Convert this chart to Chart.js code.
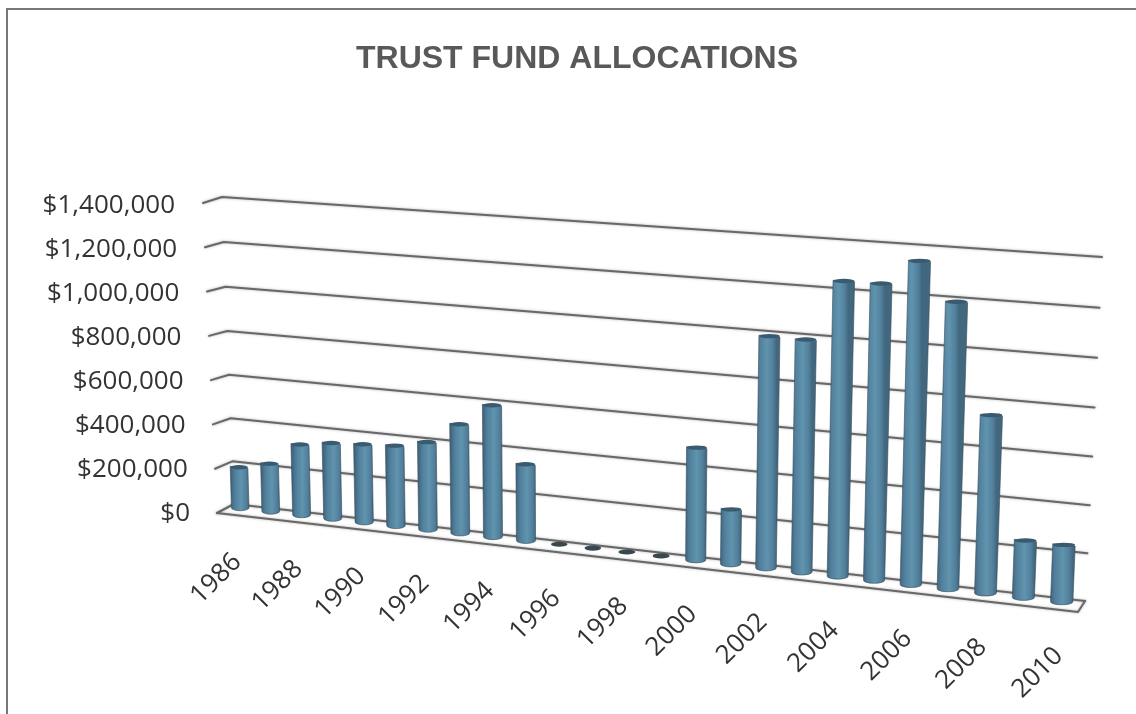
<!DOCTYPE html>
<html>
<head>
<meta charset="utf-8">
<style>
html,body{margin:0;padding:0;background:#fff;overflow:hidden}
#wrap{position:relative;width:1136px;height:714px}
#frame{position:absolute;left:6px;top:8px;right:0;bottom:0;border-left:2px solid #777;border-top:2px solid #777;pointer-events:none}
canvas{position:absolute;left:0;top:0}
</style>
<script src="https://cdn.jsdelivr.net/npm/chart.js@4"></script>
</head>
<body>
<div id="wrap"><canvas id="c" width="1136" height="714"></canvas><div id="frame"></div></div>
<script>
const titleText = 'TRUST FUND ALLOCATIONS';
const years = ['1986','1987','1988','1989','1990','1991','1992','1993','1994','1995','1996','1997','1998','1999','2000','2001','2002','2003','2004','2005','2006','2007','2008','2009','2010'];
const allocations = [190000,222000,326000,348000,357000,366000,397000,492000,591000,343000,0,0,0,0,492000,239000,997000,995000,1251000,1252000,1356000,1200000,747000,240000,239000];

// Perspective of the 3-D view: where the plot rectangle lands on screen
const wallQuad = {bl:[234,504],br:[1085,601],tl:[222,197],tr:[1102,257]};
const barQuad  = {bl:[225,506],br:[1081,604],tl:[216,202],tr:[1095,262]};
const sideFront = {top:[203,203],bottom:[217,513]};
const floorFrontRight = [1078,612];
const plot = {left:200,right:1085,top:204,bottom:512};

function homography(q){
  const [x0,y0]=q.tl,[x1,y1]=q.tr,[x2,y2]=q.br,[x3,y3]=q.bl;
  const dx1=x1-x2,dx2=x3-x2,sx=x0-x1+x2-x3,dy1=y1-y2,dy2=y3-y2,sy=y0-y1+y2-y3;
  const d=dx1*dy2-dx2*dy1;
  const g=(sx*dy2-dx2*sy)/d,h=(dx1*sy-sx*dy1)/d;
  const a=x1-x0+g*x1,b=x3-x0+h*x3,c=x0,e=y1-y0+g*y1,f=y3-y0+h*y3,i=y0;
  return (px,py)=>{
    const u=(px-plot.left)/(plot.right-plot.left),v=(py-plot.top)/(plot.bottom-plot.top);
    const w=g*u+h*v+1;
    return [(a*u+b*v+c)/w,(e*u+f*v+i)/w];
  };
}
const onWall=homography(wallQuad), onBarPlane=homography(barQuad);

class ProjectedYears extends Chart.CategoryScale{
  static id='projectedYears';
  static defaults=Chart.CategoryScale.defaults;
  _computeLabelArea(){return undefined;}
  _computeLabelItems(area){
    const items=super._computeLabelItems(area);
    items.forEach((it,k)=>{
      const p=onBarPlane(this.getPixelForTick(k),plot.bottom);
      it.options.translation=[p[0]-3,p[1]+50];
      it.options.textAlign='right';
      it.textOffset=0;
      it.options.textBaseline='middle';
    });
    return items;
  }
}
class ProjectedValues extends Chart.LinearScale{
  static id='projectedValues';
  static defaults=Chart.LinearScale.defaults;
  _computeLabelArea(){return undefined;}
  _computeLabelItems(area){
    const items=super._computeLabelItems(area);
    items.forEach((it,k)=>{
      const frac=(plot.bottom-this.getPixelForTick(k))/(plot.bottom-plot.top);
      it.options.translation=[190-15*frac,it.options.translation[1]+2];
    });
    return items;
  }
}
Chart.register(ProjectedYears,ProjectedValues);

const perspective={
  id:'perspective',
  beforeDatasetsDraw(chart){
    const ctx=chart.ctx,ys=chart.scales.y;
    ctx.save();
    ctx.lineCap='round';ctx.lineJoin='round';
    ctx.strokeStyle='#686868';ctx.lineWidth=2;
    ctx.shadowColor='rgba(90,90,90,.5)';ctx.shadowBlur=2.5;
    ys.ticks.forEach((t,k)=>{
      const py=ys.getPixelForTick(k);
      const frac=(plot.bottom-py)/(plot.bottom-plot.top);
      const a=[sideFront.bottom[0]+(sideFront.top[0]-sideFront.bottom[0])*frac,
               sideFront.bottom[1]+(sideFront.top[1]-sideFront.bottom[1])*frac];
      const b=onWall(plot.left,py),c=onWall(plot.right,py);
      ctx.beginPath();ctx.moveTo(a[0],a[1]);ctx.lineTo(b[0],b[1]);ctx.lineTo(c[0],c[1]);ctx.stroke();
    });
    // floor outline
    const py0=ys.getPixelForValue(0);
    const br=onWall(plot.right,py0);
    ctx.beginPath();
    ctx.moveTo(sideFront.bottom[0],sideFront.bottom[1]);
    ctx.lineTo(floorFrontRight[0],floorFrontRight[1]);
    ctx.lineTo(br[0],br[1]);
    ctx.stroke();
    ctx.restore();
  },
  beforeDatasetDraw(chart,args){
    const ctx=chart.ctx;
    const meta=chart.getDatasetMeta(args.index);
    meta.data.forEach(el=>{
      const hw=el.width/2;
      const bL=onBarPlane(el.x-hw,el.base),bR=onBarPlane(el.x+hw,el.base);
      const tL=onBarPlane(el.x-hw,el.y),tR=onBarPlane(el.x+hw,el.y);
      const bC=[(bL[0]+bR[0])/2,(bL[1]+bR[1])/2],tC=[(tL[0]+tR[0])/2,(tL[1]+tR[1])/2];
      const rB=(bR[0]-bL[0])/2,rT=(tR[0]-tL[0])/2;
      ctx.save();
      if(el.base-el.y>1){
        const g=ctx.createLinearGradient(bL[0],0,bR[0],0);
        g.addColorStop(0,'#40667f');g.addColorStop(.2,'#517f9b');g.addColorStop(.55,'#6094ae');
        g.addColorStop(.85,'#517f9b');g.addColorStop(1,'#42687f');
        ctx.fillStyle=g;
        ctx.beginPath();
        ctx.moveTo(tL[0],tL[1]);
        ctx.lineTo(bL[0],bL[1]);
        ctx.ellipse(bC[0],bC[1],rB,3,0,Math.PI,0,true);
        ctx.lineTo(tR[0],tR[1]);
        ctx.closePath();ctx.fill();
        ctx.strokeStyle='rgba(55,75,88,.6)';ctx.lineWidth=1;ctx.stroke();
        ctx.fillStyle='#3a5a70';
        ctx.beginPath();ctx.ellipse(tC[0],tC[1],rT,2.2,0,0,Math.PI*2);ctx.fill();
      }else{
        ctx.fillStyle='#39474f';
        ctx.beginPath();ctx.ellipse(tC[0],tC[1],rT*.85,2.6,0,0,Math.PI*2);ctx.fill();
      }
      ctx.restore();
    });
    return false;
  }
};

new Chart(document.getElementById('c'),{
  type:'bar',
  data:{labels:years,datasets:[{label:'Allocations',data:allocations,backgroundColor:'#5a8dab',barPercentage:.58,categoryPercentage:1}]},
  options:{
    responsive:false,animation:false,
    layout:{autoPadding:false,padding:{left:69,right:1136-plot.right,top:0,bottom:0}},
    plugins:{
      legend:{display:false},tooltip:{enabled:false},
      title:{display:true,text:titleText,color:'#595959',align:'center',
        font:{family:'"Liberation Sans",Arial,sans-serif',size:32,weight:'bold'},
        padding:{top:40,bottom:plot.top-40-38.4}}
    },
    scales:{
      x:{type:'projectedYears',grid:{display:false},border:{display:false},
        afterFit:s=>{s.height=714-plot.bottom;},
        ticks:{autoSkip:false,minRotation:45,maxRotation:45,color:'#333',
          font:{family:'"Open Sans",sans-serif',size:26},
          callback(v,i){return i%2?'':this.getLabelForValue(v);}}},
      y:{type:'projectedValues',min:0,max:1400000,grid:{display:false},border:{display:false},
        afterFit:s=>{s.width=plot.left-69;},
        ticks:{stepSize:200000,color:'#333',font:{family:'"Open Sans",sans-serif',size:26},
          callback:v=>'$'+Number(v).toLocaleString('en-US')}}
    }
  },
  plugins:[perspective]
});
</script>
</body>
</html>
